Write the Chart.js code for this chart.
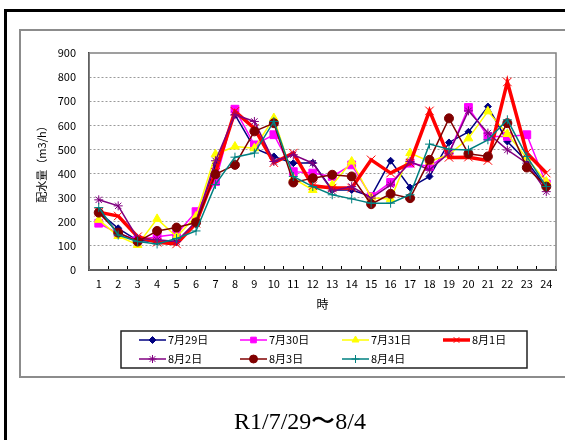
<!DOCTYPE html>
<html>
<head>
<meta charset="utf-8">
<script src="https://cdn.jsdelivr.net/npm/chart.js@4/dist/chart.umd.min.js"></script>
<style>
  body { margin: 0; width: 565px; height: 440px; overflow: hidden; background: #fff; position: relative; }
  #outer { position: absolute; left: 4px; top: 9px; width: 700px; height: 600px; border: 3px solid #000; }
  #inner { position: absolute; left: 19px; top: 29px; width: 700px; height: 345px; border: 2px solid #8c8c8c; }
  #chart { position: absolute; left: 0; top: 0; }
  #caption { position: absolute; left: 0; top: 409px; width: 600px; text-align: center;
    font: 24px/24px "Liberation Serif", "Times New Roman", serif; color: #000; }
</style>
</head>
<body>
<div id="outer"></div>
<div id="inner"></div>
<canvas id="chart" width="565" height="440"></canvas>
<div id="caption">R1/7/29〜8/4</div>
<script>
const hours = ['1','2','3','4','5','6','7','8','9','10','11','12','13','14','15','16','17','18','19','20','21','22','23','24'];
const seriesNames = ['7月29日', '7月30日', '7月31日', '8月1日', '8月2日', '8月3日', '8月4日'];

const jul29 = [240, 173, 122, 118, 118, 190, 435, 644, 505, 471, 443, 445, 332, 332, 305, 453, 342, 388, 529, 573, 678, 533, 450, 342];
const jul30 = [194, 152, 125, 138, 148, 242, 367, 667, 519, 561, 408, 402, 388, 436, 305, 363, 443, 429, 485, 674, 554, 554, 561, 357];
const jul31 = [208, 141, 104, 212, 138, 222, 480, 512, 505, 630, 380, 332, 353, 450, 300, 294, 485, 450, 478, 546, 658, 564, 464, 367];
const aug1  = [240, 224, 138, 115, 108, 194, 405, 658, 587, 445, 485, 349, 340, 340, 457, 402, 443, 660, 467, 468, 454, 780, 485, 402];
const aug2  = [291, 266, 131, 125, 118, 200, 453, 644, 616, 450, 478, 443, 328, 346, 298, 353, 450, 415, 485, 660, 568, 498, 443, 325];
const aug3  = [238, 155, 118, 162, 176, 197, 397, 436, 575, 609, 363, 381, 395, 388, 273, 316, 298, 457, 629, 482, 471, 609, 425, 346];
const aug4  = [259, 145, 118, 108, 131, 162, 355, 468, 485, 616, 388, 346, 312, 295, 277, 277, 312, 522, 501, 498, 540, 623, 471, 346];

const FONT = '"Noto Sans CJK JP", "Noto Sans", sans-serif';

// colour, marker, marker radius, line width
const styles = [
  ['#000080', 'rectRot', 3.5, 1.5],
  ['#ff00ff', 'rect', 5.5, 1.5],
  ['#ffff00', 'triangle', 5, 1.5],
  ['#ff0000', 'crossRot', 6, 3.5],
  ['#800080', 'star', 4.5, 1.5],
  ['#800000', 'circle', 4.5, 1.5],
  ['#008080', 'cross', 4.5, 1.5],
];
const allData = [jul29, jul30, jul31, aug1, aug2, aug3, aug4];

const datasets = allData.map((d, i) => {
  const [color, shape, r, lw] = styles[i];
  return {
    label: seriesNames[i],
    data: d,
    borderColor: color,
    backgroundColor: color,
    borderWidth: lw,
    pointStyle: shape,
    pointRadius: r,
    pointBorderColor: color,
    pointBackgroundColor: color,
    pointBorderWidth: 1,
    tension: 0,
    order: allData.length - i,
  };
});

// gray frame round the plot (top/right show in the reference)
const plotFrame = {
  id: 'plotFrame',
  beforeDatasetsDraw(chart) {
    const { ctx, chartArea: a } = chart;
    ctx.save();
    ctx.strokeStyle = '#808080';
    ctx.lineWidth = 1.5;
    ctx.strokeRect(a.left, a.top, a.right - a.left, a.bottom - a.top);
    ctx.restore();
  },
};

// boxed legend, 4 columns
const boxLegend = {
  id: 'boxLegend',
  afterDraw(chart) {
    const { ctx } = chart;
    const box = { x: 121, y: 331, w: 406, h: 37 };
    ctx.save();
    ctx.strokeStyle = '#222';
    ctx.lineWidth = 1.5;
    ctx.strokeRect(box.x, box.y, box.w, box.h);
    const colX = [139, 240, 342, 443];
    const rowY = [340, 359];
    ctx.font = '11px ' + FONT;
    ctx.textBaseline = 'middle';
    ctx.fillStyle = '#000';
    chart.data.datasets.forEach((ds, i) => {
      const x = colX[i % 4], y = rowY[Math.floor(i / 4)];
      ctx.strokeStyle = ds.borderColor;
      ctx.lineWidth = ds.borderWidth;
      ctx.beginPath();
      ctx.moveTo(x, y);
      ctx.lineTo(x + 27, y);
      ctx.stroke();
      ctx.fillStyle = ds.pointBackgroundColor;
      ctx.strokeStyle = ds.pointBorderColor;
      ctx.lineWidth = 1;
      Chart.helpers.drawPoint(ctx, { pointStyle: ds.pointStyle, radius: Math.min(ds.pointRadius, 4), rotation: 0, borderWidth: 1 }, x + 13.5, y);
      ctx.fillStyle = '#000';
      ctx.fillText(ds.label, x + 29, y);
    });
    ctx.restore();
  },
};

new Chart(document.getElementById('chart'), {
  type: 'line',
  data: { labels: hours, datasets },
  options: {
    responsive: false,
    animation: false,
    layout: { padding: { left: 19, top: 53, right: 9, bottom: 122 } },
    plugins: { legend: { display: false }, tooltip: { enabled: false } },
    scales: {
      x: {
        offset: true,
        afterFit: (s) => { s.height = 48; },
        grid: { offset: true, drawOnChartArea: false, tickLength: -4, tickColor: '#000', tickWidth: 1 },
        border: { color: '#000', width: 2 },
        ticks: { color: '#000', font: { family: FONT, size: 11 }, padding: 11, maxRotation: 0, autoSkip: false },
        title: { display: true, text: '時', color: '#000', font: { family: FONT, size: 12 }, padding: { top: 0, bottom: 6 } },
      },
      y: {
        min: 0,
        max: 900,
        afterFit: (s) => { s.width = 70; },
        ticks: { stepSize: 100, color: '#000', font: { family: FONT, size: 11 }, padding: 13 },
        grid: {
          drawTicks: false,
          color: (c) => (c.tick && (c.tick.value === 0 || c.tick.value === 900) ? 'rgba(0,0,0,0)' : '#9a9a9a'),
          lineWidth: 1,
        },
        border: { color: '#000', width: 1.5, dash: [2, 2] },
        title: { display: true, text: '配水量（m3/h）', color: '#000', font: { family: FONT, size: 11 }, padding: { top: 16, bottom: 0 } },
      },
    },
  },
  plugins: [plotFrame, boxLegend],
});
</script>
</body>
</html>
